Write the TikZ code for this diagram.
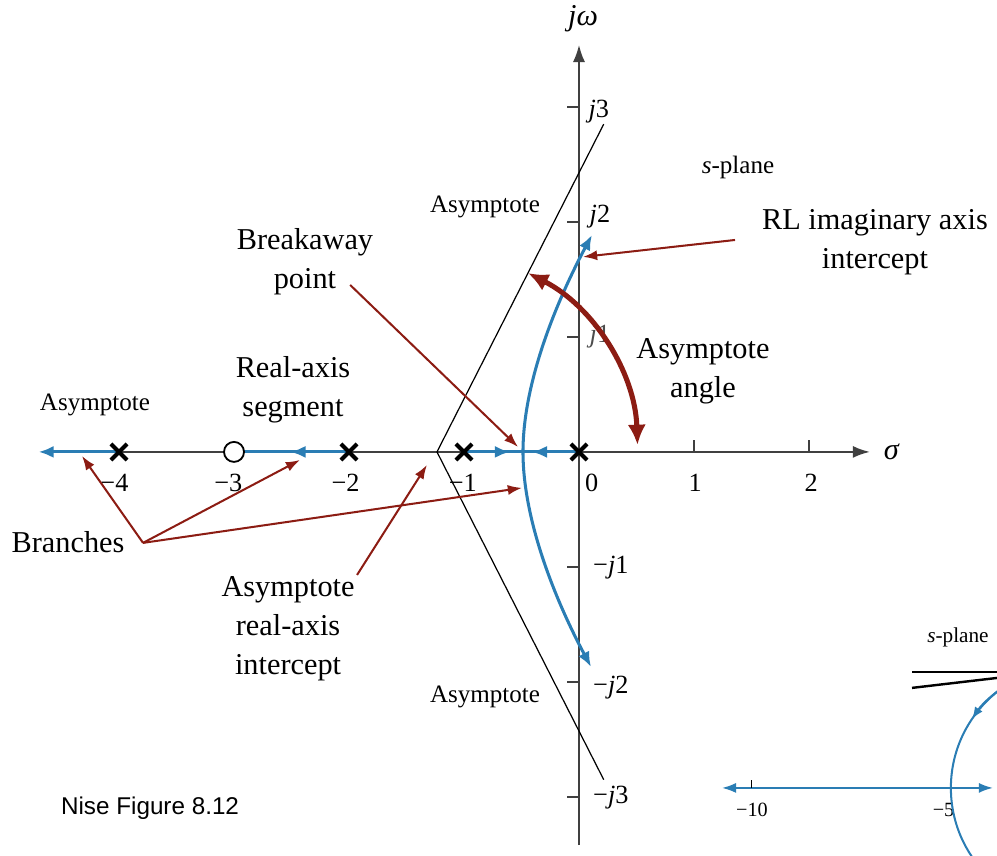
\documentclass[tikz,border=0pt]{standalone}
\usepackage{fontspec}
\setmainfont{Liberation Serif}
\newfontfamily\nisefont{Liberation Sans}
\usetikzlibrary{arrows.meta}

\begin{document}
\begin{tikzpicture}[x=2cm, y=2cm,
  lbl/.style={align=center, font=\fontsize{15}{19.3}\selectfont, inner sep=0pt},
  asy/.style={font=\fontsize{12.4}{15}\selectfont, inner sep=0pt},
  tick/.style={font=\fontsize{13}{15}\selectfont, inner sep=0pt},
  axis/.style={line width=1pt, black!75, -{Latex[length=8.5pt,width=6pt]}},
  branch/.style={line width=1.5pt, rlBlue},
  tipped/.style={branch, -{Latex[length=7.5pt,width=6pt]}},
  note/.style={line width=1pt, rlRed, -{Latex[length=7pt,width=5pt]}},
  pole/.style={line width=2pt, black},
]
\definecolor{rlBlue}{HTML}{2A7DB4}\definecolor{rlRed}{HTML}{8C1C13}
\useasboundingbox (-5.035,-3.513) rectangle (3.635,3.930);
% ---- axes ----
\draw[axis] (-4.6,0) -- (2.53,0);
\draw[axis] (0,-3.42) -- (0,3.54);
\node[font=\fontsize{15}{18}\selectfont] (sig) at (2.72,0) {\textit{σ}};
\node[font=\fontsize{15}{18}\selectfont] (jw) at (0.035,3.77) {\textit{jω}};
\foreach \v in {-3,-2,-1,1,2,3} \draw[line width=0.8pt, black!75] (-0.1,\v) -- (0,\v);
\foreach \u in {1,2} \draw[line width=0.8pt, black!75] (\u,0) -- (\u,0.1);
\node[tick, anchor=west] (t3) at (0.08,2.96) {\textit{j}3};
\node[tick, anchor=west] (t2) at (0.09,2.05) {\textit{j}2};
\node[tick, anchor=west, text=black!70] (t1) at (0.09,1.0) {\textit{j}1};
\node[tick, anchor=west] (tm1) at (0.12,-1.01) {−\textit{j}1};
\node[tick, anchor=west] (tm2) at (0.12,-2.05) {−\textit{j}2};
\node[tick, anchor=west] (tm3) at (0.12,-3.01) {−\textit{j}3};
\node[tick] (r4) at (-4.04,-0.27) {−4};
\node[tick] (r3) at (-3.05,-0.27) {−3};
\node[tick] (r2) at (-2.03,-0.27) {−2};
\node[tick] (r1) at (-1.01,-0.27) {−1};
\node[tick] (r0) at (0.11,-0.27) {0};
\node[tick] (rp1) at (1.01,-0.27) {1};
\node[tick] (rp2) at (2.02,-0.27) {2};
% ---- asymptotes ----
\coordinate (asyV) at (-1.235,0);
\draw[line width=0.6pt] (0.215,2.85) -- (asyV) -- (0.215,-2.85);
% ---- branches ----
\draw[tipped] (-4,0) -- (-4.70,0);
\draw[branch] (-2,0) -- (-2.91,0);
\draw[tipped] (-2,0) -- (-2.51,0);
\draw[branch] (-1,0) -- (0,0);
\draw[tipped] (-1,0) -- (-0.60,0);
\draw[tipped] (0,0) -- (-0.41,0);
\coordinate (brkP) at (-0.487,0);
\draw[tipped] (brkP) .. controls (-0.487,0.6) and (-0.2,1.3) .. (0.113,1.887);
\draw[tipped] (brkP) .. controls (-0.487,-0.6) and (-0.2,-1.3) .. (0.105,-1.87);
% poles and zero
\foreach \p in {0,-1,-2,-4}
  \draw[pole] (\p-0.07,-0.07) -- (\p+0.07,0.07) (\p-0.07,0.07) -- (\p+0.07,-0.07);
\draw[line width=0.9pt, fill=white] (-3,0) circle[radius=0.087];
% ---- labels ----
\node[asy] (asyU) at (-0.817,2.13) {Asymptote};
\node[asy] (asyL) at (-4.209,0.409) {Asymptote};
\node[asy] (asyD) at (-0.817,-2.13) {Asymptote};
\node[asy] (spl) at (1.383,2.47) {\textit{s}-plane};
\node[lbl] (brk) at (-2.383,1.652) {Breakaway\\point};
\node[lbl] (rli) at (2.574,1.826) {RL imaginary axis\\intercept};
\node[lbl] (aang) at (1.078,0.704) {Asymptote\\angle};
\node[lbl] (rseg) at (-2.487,0.539) {Real-axis\\segment};
\node[lbl] (brn) at (-4.443,-0.783) {Branches};
\node[lbl] (aint) at (-2.53,-1.539) {Asymptote\\real-axis\\intercept};
\node[font=\nisefont\fontsize{12}{14}\selectfont] (nise) at (-3.73,-3.096) {Nise Figure 8.12};
% ---- pointers ----
\coordinate (brkS) at (-1.99,1.452); \coordinate (brkT) at (-0.53,0.043);
\coordinate (rliS) at (1.357,1.843); \coordinate (rliT) at (0.035,1.696);
\coordinate (brnS) at (-3.791,-0.791);
\coordinate (brnA) at (-4.322,-0.035); \coordinate (brnB) at (-2.426,-0.07); \coordinate (brnC) at (-0.496,-0.313);
\coordinate (aintS) at (-1.93,-1.07); \coordinate (aintT) at (-1.322,-0.113);
\draw[note] (brkS) -- (brkT);
\draw[note] (rliS) -- (rliT);
\draw[note] (brnS) -- (brnA);
\draw[note] (brnS) -- (brnB);
\draw[note] (brnS) -- (brnC);
\draw[note] (aintS) -- (aintT);
\draw[line width=2.5pt, rlRed, {Latex[length=10pt,width=9pt]}-{Latex[length=10pt,width=9pt]}]
  (asyV) ++(63:3.49cm) arc[start angle=63, end angle=2, radius=3.49cm];
% ---- next figure, cut off at the edge ----
\begin{scope}
\clip (-5.035,-3.513) rectangle (3.635,3.930);
\node[font=\fontsize{10.5}{13}\selectfont] (spl2) at (3.296,-1.609) {\textit{s}-plane};
\draw[line width=1.2pt] (2.896,-1.913) -- (3.7,-1.913);
\draw[line width=1.2pt] (2.896,-2.052) -- (3.7,-1.958);
\draw[line width=1pt, rlBlue, {Latex[length=7pt,width=5pt]}-{Latex[length=7pt,width=5pt]}] (1.243,-2.922) -- (3.60,-2.922);
\draw[line width=0.5pt] (1.504,-2.922) -- (1.504,-2.85);
\node[font=\fontsize{10}{12}\selectfont] (m10) at (1.504,-3.113) {−10};
\node[font=\fontsize{10}{12}\selectfont] (m5) at (3.17,-3.113) {−5};
\coordinate (cC) at (4.304,-2.922);
\draw[line width=1pt, rlBlue] (cC) circle[radius=2.14cm];
\draw[line width=1pt, rlBlue, -{Latex[length=6pt,width=4.5pt]}] (cC) ++(120:2.14cm) arc[start angle=120, end angle=146, radius=2.14cm];
\end{scope}
\end{tikzpicture}
\end{document}
